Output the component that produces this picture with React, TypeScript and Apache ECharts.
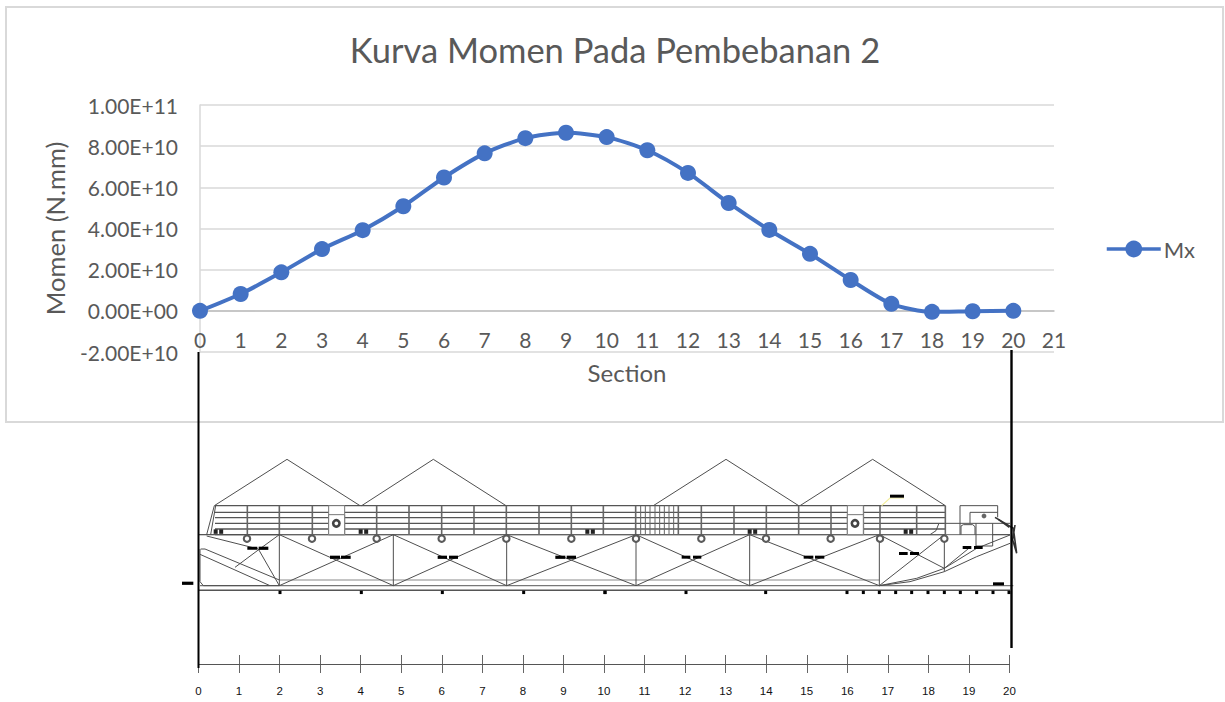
import React, { useEffect, useRef } from "react";
import * as echarts from "echarts";

const sections = [0, 1, 2, 3, 4, 5, 6, 7, 8, 9, 10, 11, 12, 13, 14, 15, 16, 17, 18, 19, 20];
const momentValues = [
  0, 0.82e10, 1.87e10, 3.0e10, 3.92e10, 5.08e10, 6.48e10, 7.65e10, 8.39e10, 8.65e10, 8.44e10,
  7.8e10, 6.7e10, 5.24e10, 3.93e10, 2.77e10, 1.5e10, 0.34e10, -0.05e10, -0.02e10, 0,
];
const titleText = "Kurva Momen Pada Pembebanan 2";
const seriesName = "Mx";
const yName = "Momen (N.mm)";
const xName = "Section";

// Ship drawing, in pixels of two 3x crops: A starts at x=170, B at x=600, both at y=440
const lineA = [
  [133, 197, 351, 58, 570, 197], [575, 197, 790, 58, 1008, 197],
  [133, 197, 110, 284], [137, 197, 122, 284],
  [85, 284, 328, 284], [110, 288, 265, 327], [265, 327, 328, 437],
  [328, 284, 258, 335, 195, 382], [90, 343, 300, 437], [92, 327, 105, 327, 328, 420],
  [90, 327, 90, 425, 100, 437, 328, 437],
  [328, 284, 328, 437], [328, 437, 670, 284], [328, 284, 670, 437], [670, 284, 670, 437],
  [670, 284, 1010, 437], [670, 437, 1010, 284], [1010, 284, 1010, 437],
  [1010, 284, 1398, 437], [1010, 437, 1398, 284],
];
const lineB = [
  [160, 197, 378, 58, 596, 197], [600, 197, 818, 58, 1036, 197],
  [108, 284, 108, 437], [108, 284, 449, 437], [108, 437, 449, 284], [449, 284, 449, 437],
  [449, 284, 838, 437], [449, 437, 838, 284], [838, 284, 838, 437],
  [838, 284, 1033, 385], [838, 437, 1033, 284], [1033, 284, 1033, 395],
  [838, 437, 950, 415, 1033, 385, 1130, 325, 1230, 285],
  [838, 437, 930, 425, 1033, 395, 1130, 350, 1230, 310],
  [1033, 385, 1110, 322],
  [1036, 250, 1230, 250], [1016, 252, 1008, 272, 990, 284],
  [1080, 284, 1080, 197, 1193, 197, 1193, 232], [1110, 250, 1110, 217, 1193, 217],
  [1083, 284, 1083, 258, 1090, 254, 1118, 254, 1125, 260, 1125, 284],
  [1128, 250, 1128, 318, 1178, 318, 1178, 250], [1178, 284, 1230, 284],
];
const deckRowsY = [197, 217, 233, 250, 267, 284];
const deckPostsA = [232, 328, 427, 620, 717, 815, 912, 1009, 1107, 1204, 1300];
const deckPostsB = [107, 235, 304, 402, 499, 596, 693, 790, 840, 950, 1036];
const gratingB = [122, 136, 150, 165, 179, 193, 207, 221];
const bollardsA = [231, 426, 620, 815, 1009, 1204];
const bollardsB = [108, 304, 498, 692, 840, 1033];
const dashesA = [
  [232, 320, 30], [266, 320, 29], [480, 347, 30], [513, 347, 29], [803, 347, 28], [837, 347, 27],
  [1156, 347, 30], [1190, 347, 28], [36, 425, 34],
];
const dashesB = [
  [245, 347, 26], [279, 347, 25], [611, 347, 29], [645, 347, 28], [897, 336, 26], [930, 336, 27],
  [1088, 318, 26], [1122, 318, 26], [1179, 427, 33], [870, 164, 42],
];
const twinMarksA = [128, 563, 1243];
const twinMarksB = [440, 908];
const keelMarksA = [330, 574, 817, 1061, 1305];
const keelMarksB = [15, 258, 497, 741, 790, 838, 887, 935, 984, 1033, 1081, 1130, 1179, 1227];

const pxA = (x: number) => 170 + x / 3;
const pxB = (x: number) => 600 + x / 3;
const pxY = (y: number) => 440 + y / 3;
const INK = "#4f4f4f";

function poly(points: number[][], stroke = INK, lineWidth = 1, z = 5) {
  return { type: "polyline", silent: true, z, shape: { points }, style: { stroke, lineWidth, fill: "none" } };
}
function box(x: number, y: number, width: number, height: number, fill = "#000", stroke = "none", z = 6) {
  return { type: "rect", silent: true, z, shape: { x, y, width, height }, style: { fill, stroke, lineWidth: 1 } };
}
function ring(cx: number, cy: number, r: number, lineWidth: number, stroke = "#5a5a5a") {
  return { type: "circle", silent: true, z: 7, shape: { cx, cy, r }, style: { fill: "#fff", stroke, lineWidth } };
}
function toPoints(coords: number[], px: (x: number) => number) {
  const pts: number[][] = [];
  for (let i = 0; i < coords.length; i += 2) pts.push([px(coords[i]), pxY(coords[i + 1])]);
  return pts;
}

function shipElements() {
  const out: any[] = [];
  const deckL = pxA(135);
  const deckR = pxB(1036);
  deckRowsY.forEach((y) => out.push(poly([[deckL, pxY(y)], [deckR, pxY(y)]], "#555", y === 197 || y === 284 ? 1.4 : 1.3)));
  deckPostsA.forEach((x) => out.push(poly([[pxA(x), pxY(197)], [pxA(x), pxY(284)]], "#666", 1.6)));
  deckPostsB.forEach((x) => out.push(poly([[pxB(x), pxY(197)], [pxB(x), pxY(284)]], "#666", 1.6)));
  gratingB.forEach((x) => out.push(poly([[pxB(x), pxY(197)], [pxB(x), pxY(284)]], "#666", 1)));

  out.push(poly([[pxA(85), pxY(284)], [pxB(1230), pxY(284)]], "#666", 1));
  out.push(poly([[pxA(328), pxY(420)], [pxB(838), pxY(420)]], "#8a8a8a", 1.2));
  out.push(poly([[pxA(90), pxY(437)], [pxB(1240), pxY(437)]], "#777", 1.3));
  out.push(poly([[pxA(85), pxY(451)], [pxB(1230), pxY(451)]], "#555", 1.5));

  lineA.forEach((c) => out.push(poly(toPoints(c, pxA))));
  lineB.forEach((c) => out.push(poly(toPoints(c, pxB))));

  // winch houses
  [[pxA(476), pxA(499)], [pxB(742), pxB(765)]].forEach(([x, cx]) => {
    out.push(box(x, pxY(197), 16, 29, "#fff", "#777"));
    out.push(box(x, pxY(224), 16, 20, "#fff", "#777"));
    out.push(ring(cx, pxY(250), 3.2, 2.6, "#444"));
  });
  out.push({ type: "circle", silent: true, z: 7, shape: { cx: pxB(1152), cy: pxY(228), r: 2.4 }, style: { fill: "#666" } });

  bollardsA.forEach((x) => out.push(ring(pxA(x), pxY(296), 3.2, 2.1)));
  bollardsB.forEach((x) => out.push(ring(pxB(x), pxY(296), 3.2, 2.1)));

  dashesA.forEach(([x, y, w]) => out.push(box(pxA(x), pxY(y), w / 3, 3.2)));
  dashesB.forEach(([x, y, w]) => out.push(box(pxB(x), pxY(y), w / 3, 3)));
  twinMarksA.forEach((x) => {
    out.push(box(pxA(x) + 1, pxY(268), 4, 4.5, "#222"));
    out.push(box(pxA(x) + 6.5, pxY(268), 4, 4.5, "#222"));
  });
  twinMarksB.forEach((x) => {
    out.push(box(pxB(x) + 1, pxY(268), 4, 4.5, "#222"));
    out.push(box(pxB(x) + 6.5, pxY(268), 4, 4.5, "#222"));
  });
  keelMarksA.forEach((x) => out.push(box(pxA(x) - 1.5, pxY(452), 3, 3.4)));
  keelMarksB.forEach((x) => out.push(box(pxB(x) - 1.5, pxY(452), 3, 3.4)));

  out.push(poly(toPoints([845, 197, 870, 174, 912, 174], pxB), "#f3ee9a", 1.2));
  out.push(poly(toPoints([1185, 232, 1240, 265, 1250, 340, 1238, 300, 1245, 255], pxB), "#333", 1.6));
  out.push(poly(toPoints([1195, 238, 1228, 262], pxB), "#333", 1.6));

  // vertical reference lines tying the chart to the ship
  out.push(poly([[198.5, 352], [198.5, 668]], "#000", 2, 8));
  out.push(poly([[1011.5, 350], [1011.5, 648]], "#000", 2.4, 8));
  return out;
}

function formatSci(v: number) {
  const [m, e] = v.toExponential(2).split("e");
  const n = e.replace(/[+-]/, "");
  return `${m}E${e[0]}${n.padStart(2, "0")}`;
}

export default function App() {
  const ref = useRef<HTMLDivElement>(null);
  useEffect(() => {
    document.body.style.margin = "0";
    const chart = echarts.init(ref.current!, undefined, { renderer: "svg" });
    const labelColor = "#595959";
    const font = "Lato, Carlito, 'Open Sans', sans-serif";
    chart.setOption({
      animation: false,
      backgroundColor: "#fff",
      textStyle: { fontFamily: font },
      title: {
        text: titleText,
        left: 610,
        top: 27,
        textAlign: "center",
        textStyle: { color: labelColor, fontSize: 34.5, fontWeight: "normal", fontFamily: font },
      },
      legend: {
        show: true,
        left: 1100,
        top: 233,
        itemWidth: 54,
        itemHeight: 21,
        itemGap: 0,
        lineStyle: { width: 3.5, color: "#4472c4" },
        textStyle: { color: labelColor, fontSize: 22, fontFamily: font, padding: [0, 0, 0, -2] },
        data: [seriesName],
      },
      grid: [
        { left: 200, top: 105, width: 854, height: 247 },
        { left: 198.5, top: 655, width: 811, height: 18 },
      ],
      xAxis: [
        {
          type: "value",
          gridIndex: 0,
          position: "bottom",
          offset: -41,
          min: 0,
          max: 21,
          interval: 1,
          name: xName,
          nameLocation: "middle",
          nameGap: 49,
          nameTextStyle: { color: labelColor, fontSize: 24, fontFamily: font },
          axisLine: { show: true, onZero: false, lineStyle: { color: "#bfbfbf", width: 1.5 } },
          axisTick: { show: false },
          splitLine: { show: false },
          axisLabel: { color: labelColor, fontSize: 21, margin: 18, fontFamily: font, showMinLabel: true, showMaxLabel: true },
        },
        {
          type: "value",
          gridIndex: 1,
          position: "bottom",
          offset: -9,
          min: 0,
          max: 20,
          interval: 1,
          axisLine: { show: true, onZero: false, lineStyle: { color: "#555", width: 1 } },
          axisTick: { show: false },
          splitLine: { show: true, lineStyle: { color: "#666", width: 1, type: "solid" } },
          axisLabel: { color: "#111", fontSize: 11.5, margin: 21, fontFamily: "'Liberation Sans', Arial, sans-serif" },
        },
      ],
      yAxis: [
        {
          type: "value",
          gridIndex: 0,
          min: -2e10,
          max: 1e11,
          interval: 2e10,
          name: yName,
          nameLocation: "middle",
          nameGap: 132,
          nameRotate: 90,
          nameTextStyle: { color: labelColor, fontSize: 25.5, fontFamily: font },
          axisLine: { show: true, onZero: false, lineStyle: { color: "#d9d9d9", width: 1.5 } },
          axisTick: { show: false },
          splitLine: { show: true, lineStyle: { color: "#d9d9d9", width: 1.5, type: "solid" } },
          axisLabel: { color: labelColor, fontSize: 21, margin: 22, padding: [0, 0, 3, 0], fontFamily: font, formatter: formatSci },
        },
        { type: "value", gridIndex: 1, min: -1, max: 1, show: false },
      ],
      series: [
        {
          name: seriesName,
          type: "line",
          xAxisIndex: 0,
          yAxisIndex: 0,
          data: sections.map((s, i) => [s, momentValues[i]]),
          smooth: 0.25,
          symbol: "circle",
          symbolSize: 16,
          showSymbol: true,
          clip: false,
          lineStyle: { color: "#4472c4", width: 4 },
          itemStyle: { color: "#4472c4" },
        },
      ],
      graphic: {
        elements: [
          {
            type: "rect",
            silent: true,
            z: -1,
            shape: { x: 6, y: 7, width: 1217, height: 415 },
            style: { fill: "none", stroke: "#d9d9d9", lineWidth: 2 },
          },
          ...shipElements(),
        ],
      },
    });
    return () => chart.dispose();
  }, []);
  return <div ref={ref} style={{ position: "absolute", left: 0, top: 0, width: 1225, height: 702 }} />;
}
